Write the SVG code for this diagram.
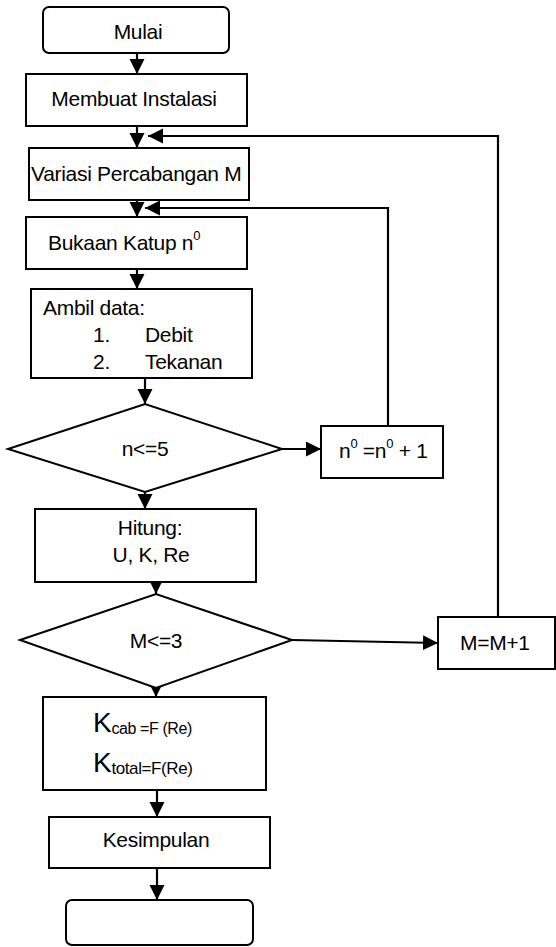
<svg xmlns="http://www.w3.org/2000/svg" width="556" height="947" viewBox="0 0 556 947">
<defs>
<marker id="ah" markerUnits="userSpaceOnUse" markerWidth="16" markerHeight="16" refX="15" refY="7.5" orient="auto">
<path d="M0,0 L15,7.5 L0,15 z" fill="#000"/>
</marker>
<style>
.b{fill:#fff;stroke:#000;stroke-width:2}
.t{font-family:"Liberation Sans",Arial,sans-serif;font-size:21px;fill:#000;letter-spacing:-0.3px}
.sup{font-size:13px}
.c{stroke:#000;stroke-width:2.2;fill:none}
.a{marker-end:url(#ah)}
</style>
</defs>
<rect width="556" height="947" fill="#fff"/>
<g id="connectors">
<line class="c a" x1="137" y1="53" x2="137" y2="74"/>
<line class="c a" x1="137" y1="126" x2="137" y2="148"/>
<line class="c a" x1="137" y1="200" x2="137" y2="217"/>
<line class="c a" x1="137" y1="269" x2="137" y2="289"/>
<line class="c a" x1="145" y1="378" x2="145" y2="404"/>
<line class="c a" x1="282" y1="449" x2="321" y2="449"/>
<polyline class="c a" points="388,426 388,208 145,208"/>
<polyline class="c a" points="498,617 498,136 148,136"/>
<line class="c a" x1="145" y1="492" x2="145" y2="509"/>
<line class="c a" x1="156" y1="582" x2="156" y2="594"/>
<line class="c a" x1="292" y1="640" x2="438" y2="643"/>
<line class="c a" x1="156" y1="688" x2="156" y2="697"/>
<line class="c a" x1="157" y1="790" x2="157" y2="817"/>
<line class="c a" x1="157" y1="868" x2="157" y2="900"/>
</g>
<g id="mulai">
<rect class="b" x="43" y="7" width="186" height="46" rx="6"/>
<text class="t" x="138" y="39" text-anchor="middle">Mulai</text>
</g>
<g id="membuat">
<rect class="b" x="26" y="74" width="221" height="52"/>
<text class="t" x="134" y="106" text-anchor="middle">Membuat Instalasi</text>
</g>
<g id="variasi">
<rect class="b" x="29" y="148" width="220" height="52"/>
<text class="t" x="31" y="181">Variasi Percabangan M</text>
</g>
<g id="bukaan">
<rect class="b" x="26" y="217" width="221" height="52"/>
<text class="t" x="48" y="250">Bukaan Katup n<tspan class="sup" dy="-10">0</tspan></text>
</g>
<g id="ambil">
<rect class="b" x="31" y="289" width="221" height="89"/>
<text class="t" x="43" y="315">Ambil data:</text>
<text class="t" x="93" y="342">1.</text>
<text class="t" x="145" y="342">Debit</text>
<text class="t" x="93" y="369">2.</text>
<text class="t" x="145" y="369">Tekanan</text>
</g>
<g id="cek-n">
<polygon class="b" points="8,449 145,404 282,449 145,492"/>
<text class="t" x="145" y="456" text-anchor="middle">n&lt;=5</text>
</g>
<g id="n-plus">
<rect class="b" x="321" y="426" width="122" height="52"/>
<text class="t" x="339" y="458">n<tspan class="sup" dy="-10">0</tspan><tspan dy="10"> =n</tspan><tspan class="sup" dy="-10">0</tspan><tspan dy="10"> + 1</tspan></text>
</g>
<g id="hitung">
<rect class="b" x="35" y="509" width="221" height="73"/>
<text class="t" x="150" y="535" text-anchor="middle">Hitung:</text>
<text class="t" x="151" y="562" text-anchor="middle">U, K, Re</text>
</g>
<g id="cek-m">
<polygon class="b" points="20,640 156,594 292,640 156,688"/>
<text class="t" x="156" y="648" text-anchor="middle">M&lt;=3</text>
</g>
<g id="m-plus">
<rect class="b" x="438" y="617" width="117" height="52"/>
<text class="t" x="460" y="650">M=M+1</text>
</g>
<g id="k-fungsi">
<rect class="b" x="43" y="697" width="223" height="93"/>
<text class="t" x="93" y="732" style="font-size:28px">K<tspan style="font-size:16px;letter-spacing:-0.4px" dy="2">cab =F (Re)</tspan></text>
<text class="t" x="93" y="772" style="font-size:28px">K<tspan style="font-size:17px;letter-spacing:-0.4px" dy="2">total=F(Re)</tspan></text>
</g>
<g id="kesimpulan">
<rect class="b" x="49" y="817" width="221" height="51"/>
<text class="t" x="156" y="847" text-anchor="middle">Kesimpulan</text>
</g>
<g id="selesai">
<rect class="b" x="66" y="900" width="187" height="45" rx="6"/>
</g>
</svg>
